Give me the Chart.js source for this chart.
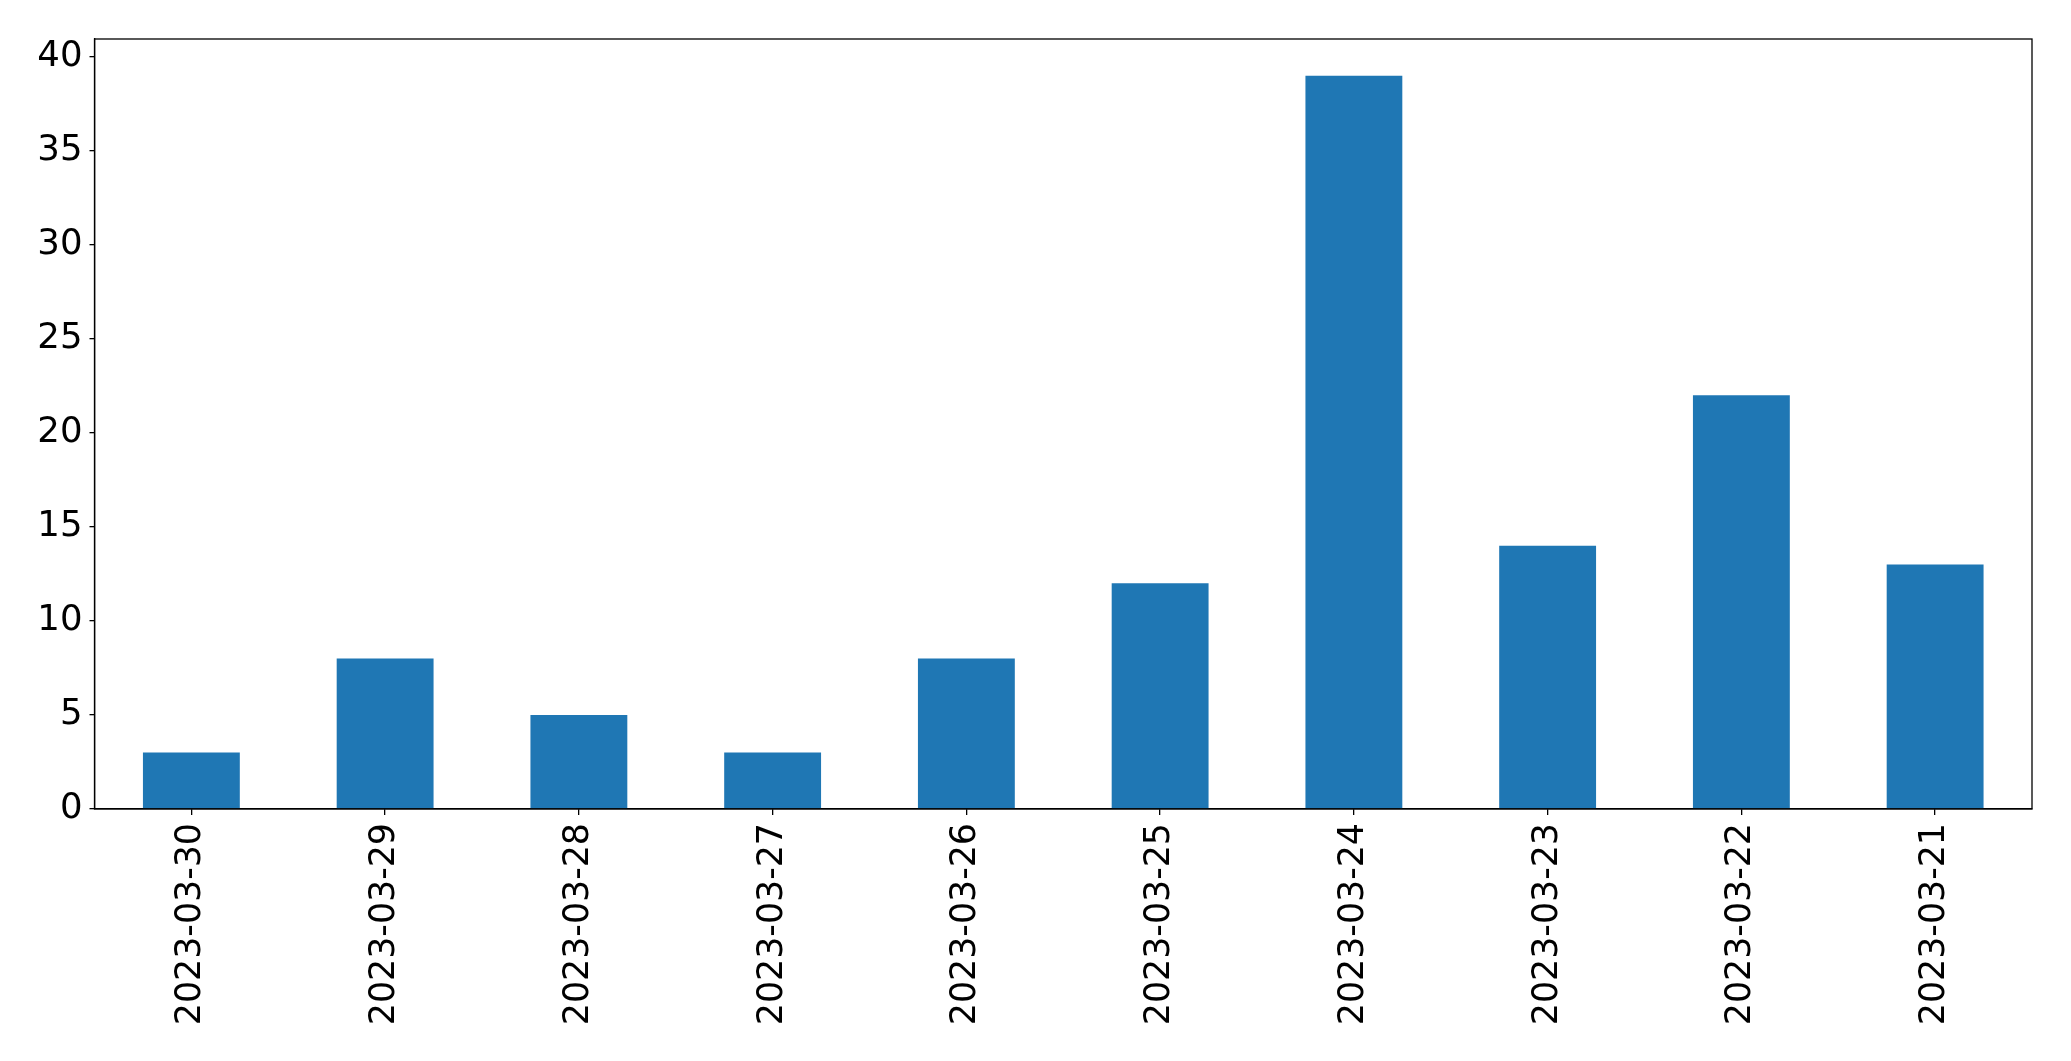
<!DOCTYPE html>
<html>
<head>
<meta charset="utf-8">
<script src="https://cdn.jsdelivr.net/npm/chart.js@4/dist/chart.umd.min.js"></script>
<style>
  html, body { margin: 0; padding: 0; background: #fff; }
  #wrap { width: 2071px; height: 1061px; }
</style>
</head>
<body>
<div id="wrap"><canvas id="bars"></canvas></div>
<script>
  "use strict"
  const days = ['2023-03-30', '2023-03-29', '2023-03-28', '2023-03-27', '2023-03-26',
                '2023-03-25', '2023-03-24', '2023-03-23', '2023-03-22', '2023-03-21']
  const counts = [3, 8, 5, 3, 8, 12, 39, 14, 22, 13]
  const yTicks = [0, 5, 10, 15, 20, 25, 30, 35, 40]

  // matplotlib style frame round the plot area
  const frame = {
    id: 'frame',
    afterDraw: function(chart){
      const a = chart.chartArea, ctx = chart.ctx
      ctx.save()
      ctx.strokeStyle = '#000'
      ctx.lineWidth = 1.3
      ctx.strokeRect(a.left, a.top, a.right - a.left, a.bottom - a.top)
      ctx.restore()
    }
  }

  const yFont = { family: 'DejaVu Sans', size: 35.5 }
  const xFont = { family: 'DejaVu Sans', size: 34.8 }

  new Chart(document.getElementById('bars'), {
    type: 'bar',
    data: {
      labels: days,
      datasets: [{
        data: counts,
        backgroundColor: '#1f77b4',
        borderWidth: 0,
        categoryPercentage: 1.0,
        barPercentage: 0.5
      }]
    },
    options: {
      responsive: true,
      maintainAspectRatio: false,
      animation: false,
      layout: { padding: { left: 0, top: 39, right: 39, bottom: 0 } },
      plugins: { legend: { display: false }, tooltip: { enabled: false } },
      scales: {
        x: {
          offset: true,
          grid: { display: true, offset: false, drawOnChartArea: false, drawTicks: true, tickLength: 6, color: '#000', lineWidth: 1.3 },
          border: { display: true, color: '#000', width: 1.3 },
          ticks: { color: '#000', font: xFont, minRotation: 90, maxRotation: 90, padding: 8, autoSkip: false },
          afterFit: function(scale){ scale.height = 252 }
        },
        y: {
          min: 0,
          max: Math.max.apply(null, counts) * 1.05,
          grid: { display: true, drawOnChartArea: false, drawTicks: true, tickLength: 5, color: '#000', lineWidth: 1.3 },
          border: { display: true, color: '#000', width: 1.3 },
          ticks: { color: '#000', font: yFont, stepSize: 5, includeBounds: false, padding: 7 },
          afterBuildTicks: function(scale){ scale.ticks = yTicks.map(function(v){ return { value: v } }) },
          afterFit: function(scale){ scale.width = 94.5 }
        }
      }
    },
    plugins: [frame]
  })
</script>
</body>
</html>
